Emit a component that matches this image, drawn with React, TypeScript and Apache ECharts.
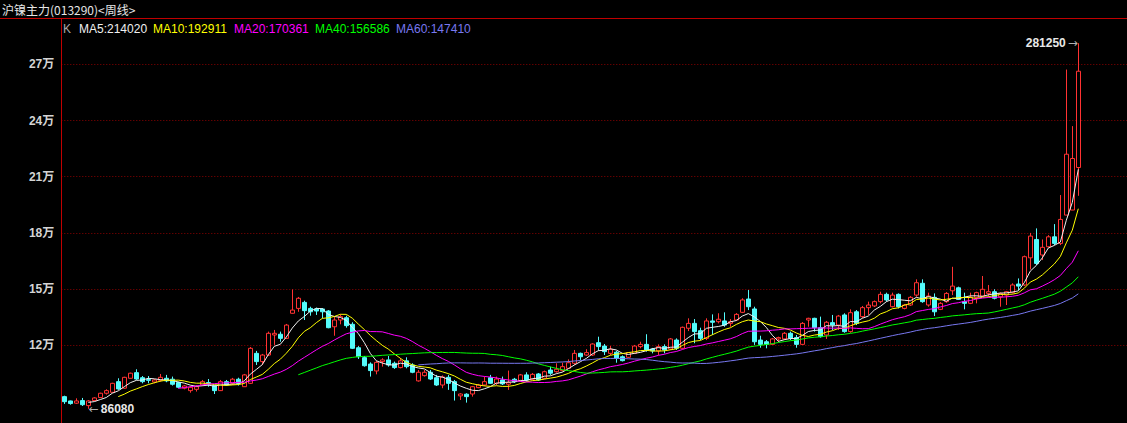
import React, { useEffect, useRef } from "react";
import * as echarts from "echarts";

const titleText = "沪镍主力(013290)<周线>";

const openPrices = [
  92600, 90300, 89100, 90500, 87800, 90500, 92100, 94400, 94900, 100600,
  97100, 102400, 105400, 102700, 101700, 100400, 101300, 102400, 101900, 100100,
  97100, 95800, 96500, 98800, 100100, 98500, 95800, 100600, 99700, 101900,
  97900, 99700, 115700, 111300, 114800, 125500, 125900, 123700, 137100, 139700,
  142900, 139700, 139400, 139400, 138300, 129900, 133500, 134700, 131200, 118700,
  113400, 110000, 106300, 111300, 112200, 110400, 108100, 111700, 109500, 101000,
  103800, 105600, 102700, 98800, 102900, 100600, 93000, 93900, 94000, 97400,
  98800, 102700, 99700, 101500, 99200, 101900, 101000, 104200, 101900, 104700,
  102400, 106800, 105900, 106500, 107700, 110400, 115700, 114800, 114800, 121400,
  119600, 115700, 116300, 113900, 113600, 115700, 119300, 120500, 118000, 117000,
  119300, 118000, 122800, 118400, 129100, 131700, 127800, 123700, 133000, 132600,
  133000, 131700, 133500, 137600, 144700, 139400, 122800, 121900, 120500, 123400,
  123400, 126400, 124100, 120500, 133500, 134400, 129400, 125500, 132100, 130800,
  136200, 127300, 137900, 135300, 140100, 141000, 143300, 147200, 140600, 147200,
  139700, 141500, 146800, 153100, 141500, 145600, 139200, 143300, 149100, 150700,
  143300, 142400, 145600, 146300, 147700, 148600, 145900, 146800, 148100, 152700,
  152200, 166700, 176500, 168200, 172600, 177900, 174400, 189500, 192200, 214900,
];

const closePrices = [
  89900, 88900, 90300, 88300, 90300, 91900, 94400, 95800, 99700, 96700,
  102900, 105100, 102000, 100600, 101300, 101500, 102900, 101000, 99200, 97600,
  98300, 97600, 97900, 100600, 99200, 95800, 100600, 98800, 101900, 99700,
  104200, 118400, 111300, 114800, 126400, 126400, 123700, 130800, 138800, 145100,
  138500, 137900, 138300, 137900, 129400, 133500, 135300, 130500, 118400, 113900,
  109100, 106500, 110900, 112200, 109500, 108100, 111700, 108600, 105600, 105600,
  105600, 102000, 98800, 103100, 99700, 95800, 94000, 92600, 97900, 98800,
  100600, 99700, 102000, 99400, 100100, 100600, 104200, 101500, 104500, 101500,
  105900, 105100, 107200, 108600, 110700, 115700, 113900, 116100, 120700, 119300,
  116600, 117900, 113100, 111800, 116100, 119600, 120500, 117500, 117000, 119300,
  117500, 123400, 118400, 129600, 131700, 127300, 123700, 133000, 132300, 133900,
  130800, 132600, 136500, 144200, 140600, 121900, 120500, 120500, 123400, 124100,
  126400, 123700, 120500, 131700, 134400, 129400, 124600, 132300, 130800, 135600,
  127300, 137400, 131700, 140100, 141500, 143300, 147200, 144200, 146800, 140600,
  141500, 145600, 153400, 143300, 146300, 137900, 142400, 147700, 151600, 144500,
  142400, 145600, 148100, 149900, 148600, 145100, 147700, 148600, 152200, 151600,
  167300, 178300, 163700, 172300, 177900, 174400, 187200, 222000, 219700, 266300,
];

const lowPrices = [
  88700, 88300, 88700, 87600, 86080, 90300, 91800, 93700, 94700, 96200,
  96800, 102200, 101500, 99700, 99700, 99700, 100600, 100300, 98500, 97100,
  96500, 94700, 95300, 98300, 97900, 94000, 95600, 98300, 98800, 98500,
  97800, 99400, 109500, 109500, 114300, 120200, 121900, 123400, 136900, 137900,
  133500, 135800, 136200, 134400, 129100, 125100, 131200, 129400, 118000, 112700,
  108600, 103300, 104500, 108600, 108600, 107400, 107700, 107700, 105100, 100600,
  103300, 101500, 98300, 97100, 96200, 90500, 90800, 89400, 92600, 97100,
  98300, 99400, 98800, 98800, 96200, 99900, 100400, 100600, 101500, 101000,
  102000, 104200, 105400, 106000, 107400, 109500, 112200, 114300, 114300, 117100,
  114800, 114800, 110700, 111400, 113200, 115400, 118400, 116600, 115700, 114800,
  115700, 117500, 117500, 118000, 127600, 121100, 122800, 122800, 125500, 131700,
  129900, 129900, 133000, 137200, 138800, 120200, 118700, 118400, 120200, 121900,
  122800, 122800, 118700, 120200, 129900, 127300, 124100, 123400, 128200, 128200,
  126700, 126700, 130800, 134600, 136200, 140400, 142400, 143300, 140200, 139700,
  139200, 141000, 145900, 142700, 140600, 135600, 138800, 142700, 146800, 144200,
  139200, 142000, 142400, 145900, 145900, 144500, 140600, 141500, 147700, 149500,
  151600, 160500, 162800, 165500, 172200, 173500, 173500, 189500, 192200, 199800,
];

const highPrices = [
  93100, 90500, 91700, 91900, 90800, 92300, 94700, 96500, 100000, 102400,
  103200, 105400, 107200, 103600, 103600, 102000, 104700, 104200, 103300, 100600,
  98800, 98300, 98700, 101500, 102000, 98800, 101500, 101500, 102600, 102700,
  104700, 119100, 117000, 115400, 127300, 128200, 127300, 131400, 149800, 145800,
  143800, 140600, 140100, 139900, 138800, 135300, 136500, 135800, 132300, 119600,
  114300, 110900, 111600, 113100, 114300, 111300, 113200, 113600, 110400, 106800,
  106800, 106800, 104200, 103900, 104200, 101500, 94400, 94400, 98300, 99400,
  103300, 104200, 103300, 103300, 106500, 102600, 104700, 105600, 105200, 105200,
  106500, 108600, 110400, 110700, 112500, 117500, 116100, 117900, 121100, 124600,
  120700, 119600, 117000, 114600, 116400, 120200, 121900, 125900, 118600, 120500,
  120500, 123900, 123700, 130000, 134400, 134000, 129400, 134400, 136500, 137100,
  137600, 134000, 137200, 145100, 149500, 140600, 125100, 122800, 123900, 124600,
  127100, 127300, 125500, 132400, 134700, 134700, 135300, 133000, 136200, 136200,
  137100, 139200, 138800, 141000, 143300, 143900, 148600, 148100, 148100, 147700,
  142000, 146300, 155200, 155200, 148100, 147700, 143100, 148400, 161900, 151300,
  148100, 148100, 148600, 157000, 152200, 149900, 148200, 149000, 153100, 155700,
  167900, 180000, 182400, 176500, 178800, 184700, 200200, 267200, 237000, 281250,
];

const extraSlots = 8;
const categories = openPrices
  .map((_, i) => `W${i + 1}`)
  .concat(Array.from({ length: extraSlots }, () => ""));

const yTicks = [120000, 150000, 180000, 210000, 240000, 270000];
const maPeriods = [5, 10, 20, 40, 60];
const maColors = ["#f0f0f0", "#ffff00", "#ff00ff", "#00ff00", "#7878f0"];
const maLegendValues = [214020, 192911, 170361, 156586, 147410];
const legendX = [79, 153, 234, 315, 396];

const UP = "#ff3232";
const DOWN = "#54fcfc";

const VIEW_W = 1127;
const VIEW_H = 423;
const CHART_W = 1131;
const CHART_H = 460;

function movingAverage(period: number) {
  return closePrices.map((_, i) => {
    if (i < period - 1) return "-";
    let s = 0;
    for (let j = i - period + 1; j <= i; j++) s += closePrices[j];
    return Math.round(s / period);
  });
}

function buildOption() {
  const candles = openPrices.map((o, i) => [o, closePrices[i], lowPrices[i], highPrices[i]]);
  const textFont = "'Liberation Sans', Arial, sans-serif";
  const graphics: any[] = [
    {
      type: "text",
      x: 2,
      y: 9,
      style: {
        text: titleText,
        fill: "#e6e6e6",
        font: "12px 'Noto Sans CJK SC', sans-serif",
        textVerticalAlign: "middle",
      },
      z: 100,
    },
    {
      type: "line",
      shape: { x1: 0, y1: 18.5, x2: CHART_W, y2: 18.5 },
      style: { stroke: "#c00000", lineWidth: 1 },
      z: 100,
    },
    {
      type: "line",
      shape: { x1: 61.5, y1: 18.5, x2: 61.5, y2: CHART_H },
      style: { stroke: "#c00000", lineWidth: 1 },
      z: 100,
    },
    {
      type: "text",
      x: 63,
      y: 29,
      style: { text: "K", fill: "#a8a8a8", font: `12px ${textFont}`, textVerticalAlign: "middle" },
      z: 100,
    },
  ];
  maPeriods.forEach((p, k) => {
    graphics.push({
      type: "text",
      x: legendX[k],
      y: 29,
      style: {
        text: `MA${p}:${maLegendValues[k]}`,
        fill: maColors[k],
        font: `12px ${textFont}`,
        textVerticalAlign: "middle",
      },
      z: 100,
    });
  });

  const maSeries = maPeriods.map((p, k) => ({
    type: "line",
    name: `MA${p}`,
    data: movingAverage(p),
    showSymbol: false,
    symbol: "none",
    lineStyle: { color: maColors[k], width: 1 },
    silent: true,
    z: 3,
  }));

  return {
    animation: false,
    backgroundColor: "#000000",
    grid: { left: 61.3, right: CHART_W - (61.3 + 6 * categories.length), top: 8.1, bottom: CHART_H - 457.7 },
    xAxis: {
      type: "category",
      data: categories,
      boundaryGap: true,
      axisLine: { show: false },
      axisTick: { show: false },
      axisLabel: { show: false },
      splitLine: { show: false },
    },
    yAxis: {
      type: "value",
      min: 60000,
      max: 300000,
      interval: 30000,
      axisLine: { show: false },
      axisTick: { show: false },
      splitLine: { show: false },
      axisLabel: {
        formatter: (v: number) => (yTicks.includes(v) ? `${v / 10000}万` : ""),
        color: "#d4d4d4",
        fontSize: 12,
        fontWeight: "bold",
        fontFamily: "'Liberation Sans', 'Noto Sans CJK SC', sans-serif",
        margin: 7,
      },
    },
    series: [
      {
        type: "candlestick",
        data: candles,
        barWidth: 4,
        itemStyle: {
          color: "#000000",
          color0: DOWN,
          borderColor: UP,
          borderColor0: DOWN,
          borderWidth: 1,
        },
        z: 2,
        markLine: {
          silent: true,
          symbol: ["none", "none"],
          label: { show: false },
          lineStyle: { color: "#8c0000", type: [1, 2], width: 1 },
          data: yTicks.map((v) => ({ yAxis: v })),
          z: 1,
        },
        markPoint: {
          silent: true,
          symbol: "circle",
          symbolSize: 1,
          itemStyle: { color: "rgba(0,0,0,0)" },
          data: [
            {
              type: "max",
              valueDim: "highest",
              label: {
                show: true,
                position: "left",
                distance: 0,
                formatter: (p: any) => `{v|${p.value}}{a|→}`,
                rich: {
                  v: { color: "#e8e8e8", fontSize: 12, fontWeight: "bold", fontFamily: textFont },
                  a: { color: "#b0b0b0", fontSize: 12, fontFamily: "'DejaVu Sans', sans-serif", padding: [0, 0, 0, 2] },
                },
              },
            },
            {
              type: "min",
              valueDim: "lowest",
              label: {
                show: true,
                position: "right",
                distance: 0,
                formatter: (p: any) => `{a|←}{v|${p.value}}`,
                rich: {
                  v: { color: "#e8e8e8", fontSize: 12, fontWeight: "bold", fontFamily: textFont },
                  a: { color: "#b0b0b0", fontSize: 12, fontFamily: "'DejaVu Sans', sans-serif", padding: [0, 2, 0, 0] },
                },
              },
            },
          ],
        },
      },
      ...maSeries,
    ],
    graphic: graphics,
  };
}

export default function App() {
  const ref = useRef<HTMLDivElement>(null);
  useEffect(() => {
    const chart = echarts.init(ref.current as HTMLDivElement, null, { renderer: "svg" });
    chart.setOption(buildOption() as any);
    return () => chart.dispose();
  }, []);
  return (
    <div
      style={{
        position: "fixed",
        left: 0,
        top: 0,
        width: VIEW_W,
        height: VIEW_H,
        overflow: "hidden",
        background: "#000",
      }}
    >
      <div ref={ref} style={{ width: CHART_W, height: CHART_H }} />
    </div>
  );
}
